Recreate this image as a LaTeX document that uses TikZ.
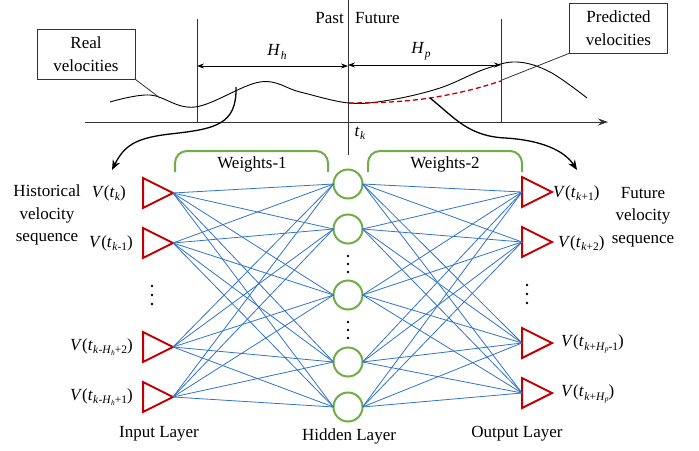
\documentclass[tikz,border=0pt]{standalone}
\usepackage{fontspec}
\setmainfont{Liberation Serif}
\usetikzlibrary{shapes.geometric,arrows.meta}
\definecolor{tred}{HTML}{C00000}
\definecolor{tblue}{HTML}{2F74C8}
\definecolor{tgreen}{HTML}{70AD47}
\newcommand{\sbx}[1]{\raisebox{-3.5pt}{\fontsize{11.5}{12}\selectfont #1}}
\newcommand{\sbh}[1]{\raisebox{-1.5pt}{\fontsize{7.5}{8}\selectfont\textit{#1}}}
\newcommand{\Vlab}[1]{\textit{V}(\textit{t}\kern0.3pt\sbx{#1})}
\begin{document}
\begin{tikzpicture}[x=1pt,y=-1pt,font=\fontsize{17}{22.5}\selectfont,
  tri/.style={isosceles triangle,isosceles triangle stretches,minimum width=30pt,minimum height=30pt,inner sep=0pt,outer sep=0pt,draw=tred,line width=2pt,anchor=lower side},
  hid/.style={circle,minimum size=29pt,inner sep=0pt,outer sep=0pt,draw=tgreen,line width=2pt},
  conn/.style={draw=tblue,line width=0.8pt},
  axisline/.style={draw=black!80,line width=0.8pt},
  curve/.style={draw=black,line width=0.9pt},
  bigarrow/.style={draw=black,line width=1.3pt,-{Stealth[length=10pt,width=8pt]}},
  dimarrow/.style={draw=black,line width=0.8pt,{Stealth[length=7pt,width=5pt]}-{Stealth[length=7pt,width=5pt]}},
  bracket/.style={draw=tgreen,line width=2pt,rounded corners=12pt},
  labbox/.style={draw=black!80,line width=0.8pt,align=center,minimum width=98pt,minimum height=50pt,inner sep=0pt},
  txt/.style={inner sep=0pt,align=center},
  dotf/.style={fill=black}]
\useasboundingbox (0,0) rectangle (699,450);

% ---------- top: time axis and curves ----------
\coordinate (axL) at (85,122);
\coordinate (axR) at (608,122);
\draw[axisline,-{Stealth[length=10pt,width=7pt]}] (axL) -- (axR);
\coordinate (v1t) at (197,19); \coordinate (v1b) at (197,122);
\coordinate (v2t) at (348,0);  \coordinate (v2b) at (348,155);
\coordinate (v3t) at (501,19); \coordinate (v3b) at (501,122);
\draw[axisline] (v1t) -- (v1b);
\draw[axisline] (v2t) -- (v2b);
\draw[axisline] (v3t) -- (v3b);

\node[txt,anchor=east] (past) at (344,18) {Past};
\node[txt,anchor=west] (future) at (355,18) {Future};

\coordinate (hh1) at (197,66); \coordinate (hh2) at (348,66);
\coordinate (hp1) at (348,65); \coordinate (hp2) at (501,65);
\draw[dimarrow] (hh1) -- (hh2);
\draw[dimarrow] (hp1) -- (hp2);
\node[txt] (Hh) at (277,52) {\textit{H}\kern0.3pt\sbx{\textit{h}}};
\node[txt] (Hp) at (421,51) {\textit{H}\kern0.3pt\sbx{\textit{p}}};
\node[txt] (tk) at (360,133) {\textit{t}\kern0.3pt\sbx{\textit{k}}};

\draw[curve] plot[smooth,tension=0.6] coordinates {(110,102) (150,95) (195,107) (260,82) (300,92) (349,103) (390,100) (440,88) (485,69) (517,62) (550,72) (587,98)};
\draw[tred,line width=1.3pt,dash pattern=on 5pt off 3pt] plot[smooth,tension=0.6] coordinates {(349,103) (390,102) (430,98) (470,90) (501,81)};

\node[labbox] (real) at (86,54) {Real\\velocities};
\node[labbox] (pred) at (618.5,28) {Predicted\\velocities};
\coordinate (realtip) at (160,98);
\coordinate (predtip) at (502,80);
\draw[axisline] (real.south east) -- (realtip);
\draw[axisline] (pred.south west) -- (predtip);

\coordinate (la) at (236,87);
\coordinate (lb) at (112,170);
\coordinate (ra) at (430,98);
\coordinate (rb) at (577,170);
\draw[bigarrow] (la) .. controls (237,125) and (215,129) .. (170,134) .. controls (135,138) and (124,146) .. (lb);
\draw[bigarrow] (ra) .. controls (455,118) and (468,136) .. (505,138) .. controls (540,140) and (564,150) .. (rb);

% ---------- network ----------
\node[tri] (i1) at (143,193) {};
\node[tri] (i2) at (143,243) {};
\node[tri] (i3) at (143,347) {};
\node[tri] (i4) at (143,397) {};

\node[hid] (h1) at (348,184) {};
\node[hid] (h2) at (348,229) {};
\node[hid] (h3) at (348,295) {};
\node[hid] (h4) at (348,362) {};
\node[hid] (h5) at (348,407) {};

\node[tri] (o1) at (522,192) {};
\node[tri] (o2) at (522,242) {};
\node[tri] (o3) at (522,343) {};
\node[tri] (o4) at (522,393) {};

\foreach \i in {1,...,4}{\foreach \j in {1,...,5}{\draw[conn] (i\i.apex) -- (h\j.west);}}
\foreach \j in {1,...,5}{\foreach \k in {1,...,4}{\draw[conn] (h\j.east) -- (o\k.lower side);}}

\foreach \y in {286,295,304}{\fill[dotf] (152,\y) circle (1.4pt);}
\foreach \y in {285,294,303}{\fill[dotf] (527,\y) circle (1.4pt);}
\foreach \y in {256,264,272,322,330,338}{\fill[dotf] (348,\y) circle (1.4pt);}

\draw[bracket] (175,172) -- (175,151) -- (328,151) -- (328,172);
\draw[bracket] (368,172) -- (368,151) -- (522,151) -- (522,172);
\node[txt] (w1) at (252,164) {Weights-1};
\node[txt] (w2) at (445,164) {Weights-2};

\node[txt,anchor=east] (li1) at (126,193) {\Vlab{\textit{k}}};
\node[txt,anchor=east] (li2) at (133,243) {\Vlab{\textit{k}-1}};
\node[txt,anchor=east] (li3) at (133,347) {\Vlab{\textit{k}-\textit{H}\sbh{h}+2}};
\node[txt,anchor=east] (li4) at (133,397) {\Vlab{\textit{k}-\textit{H}\sbh{h}+1}};

\node[txt,anchor=west] (lo1) at (553,193) {\Vlab{\textit{k}+1}};
\node[txt,anchor=west] (lo2) at (558,243) {\Vlab{\textit{k}+2}};
\node[txt,anchor=west] (lo3) at (561,344) {\Vlab{\textit{k}+\textit{H}\sbh{p}-1}};
\node[txt,anchor=west] (lo4) at (561,394) {\Vlab{\textit{k}+\textit{H}\sbh{p}}};

\node[txt] (hist) at (47,215) {Historical\\velocity\\sequence};
\node[txt] (fut) at (643,217) {Future\\velocity\\sequence};

\node[txt] (inl) at (159,434) {Input Layer};
\node[txt] (hidl) at (349,436) {Hidden Layer};
\node[txt] (outl) at (517,434) {Output Layer};
\end{tikzpicture}
\end{document}
